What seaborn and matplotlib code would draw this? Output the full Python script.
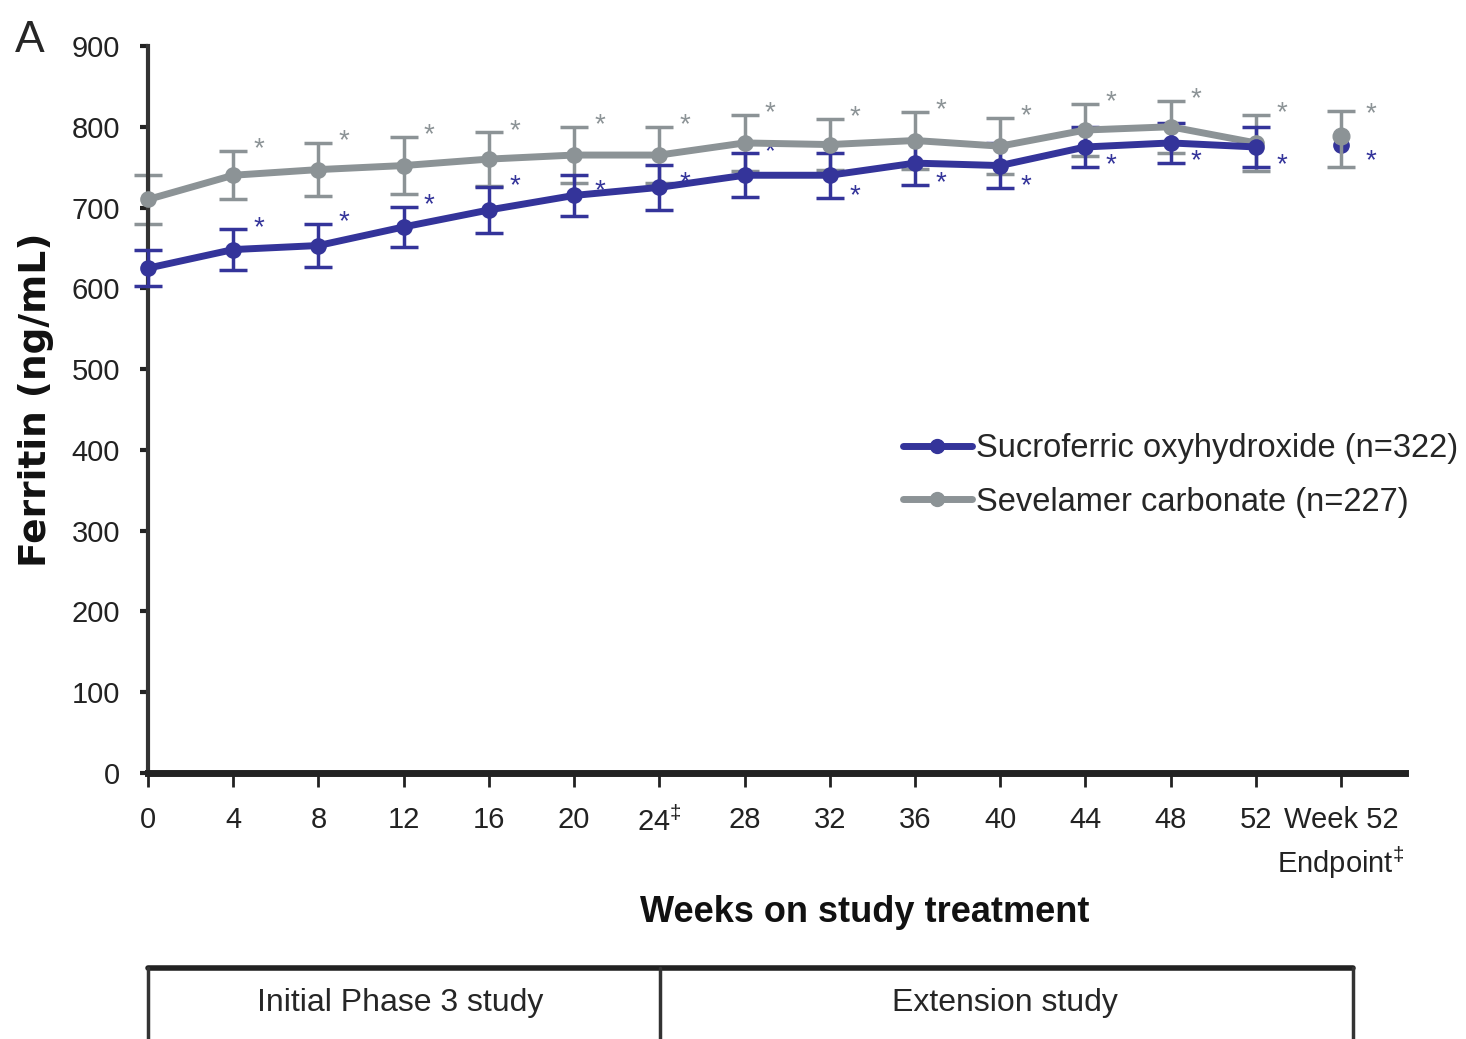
import matplotlib
matplotlib.use("Agg")
import matplotlib.pyplot as plt
import seaborn as sns
import pandas as pd
from matplotlib.lines import Line2D

# ---------------- data ----------------
weeks = [0, 4, 8, 12, 16, 20, 24, 28, 32, 36, 40, 44, 48, 52]
tick_labels = ["0", "4", "8", "12", "16", "20", "24$^{\\ddagger}$", "28", "32", "36",
               "40", "44", "48", "52", "Week 52\nEndpoint$^{\\ddagger}$"]
sfo_mean = [625, 648, 653, 676, 697, 715, 725, 740, 740, 755, 752, 775, 780, 775]
sfo_err = [22, 25, 27, 25, 28, 25, 28, 27, 28, 27, 28, 25, 25, 25]
sev_mean = [710, 740, 747, 752, 760, 765, 765, 780, 778, 783, 776, 796, 800, 780]
sev_err = [30, 30, 33, 35, 33, 35, 35, 35, 32, 35, 35, 32, 32, 35]
endpoint_x = 56
sfo_end_mean, sfo_end_err = 778, 30
sev_end_mean, sev_end_err = 785, 35
# which side of the blue points the significance star sits on
sfo_star_side = ["", "up", "up", "up", "up", "mid", "mid", "up",
                 "down", "down", "down", "down", "down", "down"]
sev_star_side = ["", "up", "up", "up", "up", "up", "up", "up",
                 "up", "up", "up", "up", "up", "up"]
labels = ["Sucroferric oxyhydroxide (n=322)", "Sevelamer carbonate (n=227)"]

BLUE = "#34349a"
GREY = "#8c9396"

sns.set_style("ticks")
plt.rcParams["font.family"] = ["Liberation Sans", "DejaVu Sans"]
plt.rcParams["mathtext.fontset"] = "custom"
plt.rcParams["mathtext.rm"] = "Liberation Sans"

W, H = 1466, 1039
fig = plt.figure(figsize=(W / 100, H / 100), dpi=100)
ax = fig.add_axes([148 / W, 1 - 773 / H, (1405 - 148) / W, (773 - 46) / H])

df = pd.DataFrame({
    "week": weeks * 2,
    "ferritin": sfo_mean + sev_mean,
    "group": [labels[0]] * len(weeks) + [labels[1]] * len(weeks),
})

# error bars first
ax.errorbar(weeks, sev_mean, yerr=sev_err, fmt="none", ecolor=GREY, elinewidth=2.5,
            capsize=10, capthick=2.5, zorder=2, clip_on=False)
ax.errorbar(weeks, sfo_mean, yerr=sfo_err, fmt="none", ecolor=BLUE, elinewidth=2.5,
            capsize=10, capthick=2.5, zorder=3, clip_on=False)

sns.lineplot(data=df, x="week", y="ferritin", hue="group",
             palette={labels[0]: BLUE, labels[1]: GREY},
             hue_order=[labels[1], labels[0]],
             marker="o", markersize=12, markeredgewidth=0, linewidth=5,
             ax=ax, legend=False, zorder=4)
for ln in ax.lines:
    ln.set_clip_on(False)

# endpoint points
ax.errorbar([endpoint_x], [sfo_end_mean], yerr=[0], fmt="o", color=BLUE,
            markersize=11, elinewidth=0, zorder=3)
ax.errorbar([endpoint_x], [sev_end_mean], yerr=[sev_end_err], fmt="none",
            ecolor=GREY, elinewidth=2.5, capsize=10, capthick=2.5, zorder=4)
ax.plot([endpoint_x], [sev_end_mean + 4], "o", color=GREY, markersize=12, zorder=5)

# significance stars
for x, m, e, s in zip(weeks, sev_mean, sev_err, sev_star_side):
    if s:
        ax.text(x + 1.2, m + e + 2, "*", color=GREY, fontsize=20, ha="center", va="center")
for x, m, e, s in zip(weeks, sfo_mean, sfo_err, sfo_star_side):
    if s == "up":
        y = m + e + 2
    elif s == "mid":
        y = m + 5
    elif s == "down":
        y = m - e + 2
    else:
        continue
    ax.text(x + 1.2, y, "*", color=BLUE, fontsize=20, ha="center", va="center")
ax.text(endpoint_x + 1.4, sev_end_mean + 30, "*", color=GREY, fontsize=20, ha="center", va="center")
ax.text(endpoint_x + 1.4, sfo_end_mean - 20, "*", color=BLUE, fontsize=20, ha="center", va="center")

# axes styling
ax.set_xlim(0, 59)
ax.set_ylim(0, 900)
ax.set_xticks(weeks + [endpoint_x])
ax.set_xticklabels(tick_labels)
ax.set_yticks(range(0, 901, 100))
ax.tick_params(axis="x", direction="out", length=10, width=2, pad=14, labelsize=21,
               colors="#222222")
ax.tick_params(axis="y", direction="out", length=6, width=3, pad=14, labelsize=21,
               colors="#222222")
for lbl in ax.get_xticklabels():
    lbl.set_linespacing(1.35)
sns.despine(ax=ax)
ax.spines["left"].set_linewidth(3)
ax.spines["left"].set_color("#333333")
ax.spines["bottom"].set_linewidth(5)
ax.spines["bottom"].set_color("#222222")

ax.set_ylabel("Ferritin (ng/mL)", fontsize=27, fontweight="bold", family=["DejaVu Sans"],
              color="#111111")
ax.yaxis.set_label_coords((54 - 148) / 1257, (773 - 400) / 727)
ax.set_xlabel("")
fig.text(865 / W, 1 - 912 / H, "Weeks on study treatment", fontsize=26, fontweight="bold",
         ha="center", va="center", color="#111111")
fig.text(30 / W, 1 - 40 / H, "A", fontsize=32, ha="center", va="center")

# legend
handles = [
    Line2D([], [], color=BLUE, lw=5, marker="o", markersize=10),
    Line2D([], [], color=GREY, lw=5, marker="o", markersize=10),
]
fig.legend(handles, labels, loc="upper left", bbox_to_anchor=(903 / W, 1 - 433 / H),
           frameon=False, fontsize=23.5, handlelength=2.1, handletextpad=0.15,
           labelspacing=0.7, borderaxespad=0, borderpad=0)

# study-period box below the axis
x0, x1, xm = 148 / W, 1353 / W, 660 / W
ytop = 1 - 968 / H
fig.add_artist(Line2D([x0, x1], [ytop, ytop], color="#222222", lw=4))
for xx in (x0, xm, x1):
    fig.add_artist(Line2D([xx, xx], [ytop, -0.01], color="#333333", lw=2.5))
fig.text(400 / W, 1 - 1003 / H, "Initial Phase 3 study", fontsize=23, ha="center", va="center")
fig.text(1005 / W, 1 - 1003 / H, "Extension study", fontsize=23, ha="center", va="center")

fig.savefig("out.png", dpi=100)
